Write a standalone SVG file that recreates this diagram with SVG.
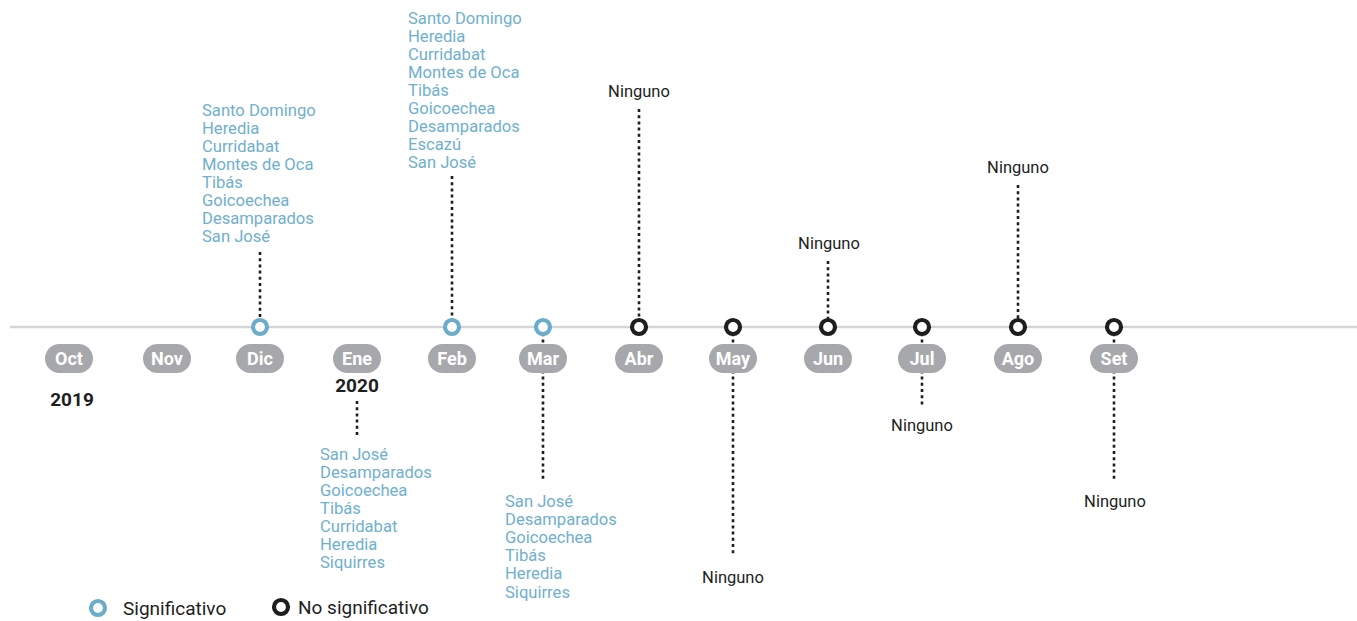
<svg xmlns="http://www.w3.org/2000/svg" width="1357" height="621" viewBox="0 0 1357 621">
<style>
.axis{stroke:#d5d5d5;stroke-width:2.5}
.dot{stroke:#1e1e1e;stroke-width:2.6;stroke-dasharray:3 3.2;fill:none}
.pill{fill:#a7a8ab}
.mon{font-family:Roboto,"Liberation Sans",sans-serif;font-weight:bold;font-size:18px;fill:#fff;text-anchor:middle}
.yr{font-family:Roboto,"Liberation Sans",sans-serif;font-weight:bold;font-size:19px;fill:#1e1e1e;text-anchor:middle}
.sig{fill:#fff;stroke:#6aadcb;stroke-width:4.2}
.ns{fill:#fff;stroke:#1e1e1e;stroke-width:4.2}
.blue{font-family:Roboto,"Liberation Sans",sans-serif;font-size:16.6px;fill:#6fb0ce}
.blk{font-family:Roboto,"Liberation Sans",sans-serif;font-size:16.5px;fill:#1e1e1e;text-anchor:middle}
.leg{font-family:Roboto,"Liberation Sans",sans-serif;font-size:19px;fill:#1e1e1e}
</style>
<rect width="1357" height="621" fill="#fff"/>
<line class="axis" x1="10" y1="327" x2="1357" y2="327"/>
<g id="connectors">
<line class="dot" x1="260" y1="252" x2="260" y2="327"/>
<line class="dot" x1="452" y1="176" x2="452" y2="327"/>
<line class="dot" x1="639" y1="109" x2="639" y2="327"/>
<line class="dot" x1="828" y1="261" x2="828" y2="327"/>
<line class="dot" x1="1018" y1="185" x2="1018" y2="327"/>
<line class="dot" x1="357" y1="401" x2="357" y2="437"/>
<line class="dot" x1="543" y1="327" x2="543" y2="479"/>
<line class="dot" x1="733" y1="327" x2="733" y2="556"/>
<line class="dot" x1="922" y1="327" x2="922" y2="405"/>
<line class="dot" x1="1114" y1="327" x2="1114" y2="480"/>
</g>
<g id="months">
<g id="m-oct"><rect class="pill" x="45" y="344" width="48" height="29" rx="14.5"/><text class="mon" x="69" y="365">Oct</text></g>
<g id="m-nov"><rect class="pill" x="143" y="344" width="48" height="29" rx="14.5"/><text class="mon" x="167" y="365">Nov</text></g>
<g id="m-dic"><rect class="pill" x="236" y="344" width="48" height="29" rx="14.5"/><text class="mon" x="260" y="365">Dic</text></g>
<g id="m-ene"><rect class="pill" x="333" y="344" width="48" height="29" rx="14.5"/><text class="mon" x="357" y="365">Ene</text></g>
<g id="m-feb"><rect class="pill" x="428" y="344" width="48" height="29" rx="14.5"/><text class="mon" x="452" y="365">Feb</text></g>
<g id="m-mar"><rect class="pill" x="519" y="344" width="48" height="29" rx="14.5"/><text class="mon" x="543" y="365">Mar</text></g>
<g id="m-abr"><rect class="pill" x="615" y="344" width="48" height="29" rx="14.5"/><text class="mon" x="639" y="365">Abr</text></g>
<g id="m-may"><rect class="pill" x="709" y="344" width="48" height="29" rx="14.5"/><text class="mon" x="733" y="365">May</text></g>
<g id="m-jun"><rect class="pill" x="804" y="344" width="48" height="29" rx="14.5"/><text class="mon" x="828" y="365">Jun</text></g>
<g id="m-jul"><rect class="pill" x="898" y="344" width="48" height="29" rx="14.5"/><text class="mon" x="922" y="365">Jul</text></g>
<g id="m-ago"><rect class="pill" x="994" y="344" width="48" height="29" rx="14.5"/><text class="mon" x="1018" y="365">Ago</text></g>
<g id="m-set"><rect class="pill" x="1090" y="344" width="48" height="29" rx="14.5"/><text class="mon" x="1114" y="365">Set</text></g>
<text class="yr" x="72" y="406">2019</text>
<text class="yr" x="357" y="392">2020</text>
</g>
<g id="markers">
<circle class="sig" cx="260" cy="327" r="7"/>
<circle class="sig" cx="452" cy="327" r="7"/>
<circle class="sig" cx="543" cy="327" r="7"/>
<circle class="ns" cx="639" cy="327" r="7"/>
<circle class="ns" cx="733" cy="327" r="7"/>
<circle class="ns" cx="828" cy="327" r="7"/>
<circle class="ns" cx="922" cy="327" r="7"/>
<circle class="ns" cx="1018" cy="327" r="7"/>
<circle class="ns" cx="1114" cy="327" r="7"/>
</g>
<g id="list-dic">
<text class="blue" x="202" y="116">Santo Domingo</text>
<text class="blue" x="202" y="134">Heredia</text>
<text class="blue" x="202" y="152">Curridabat</text>
<text class="blue" x="202" y="170">Montes de Oca</text>
<text class="blue" x="202" y="188">Tibás</text>
<text class="blue" x="202" y="206">Goicoechea</text>
<text class="blue" x="202" y="224">Desamparados</text>
<text class="blue" x="202" y="242">San José</text>
</g>
<g id="list-feb">
<text class="blue" x="408" y="24">Santo Domingo</text>
<text class="blue" x="408" y="42">Heredia</text>
<text class="blue" x="408" y="60">Curridabat</text>
<text class="blue" x="408" y="78">Montes de Oca</text>
<text class="blue" x="408" y="96">Tibás</text>
<text class="blue" x="408" y="114">Goicoechea</text>
<text class="blue" x="408" y="132">Desamparados</text>
<text class="blue" x="408" y="150">Escazú</text>
<text class="blue" x="408" y="168">San José</text>
</g>
<g id="list-ene">
<text class="blue" x="320" y="460">San José</text>
<text class="blue" x="320" y="478">Desamparados</text>
<text class="blue" x="320" y="496">Goicoechea</text>
<text class="blue" x="320" y="514">Tibás</text>
<text class="blue" x="320" y="532">Curridabat</text>
<text class="blue" x="320" y="550">Heredia</text>
<text class="blue" x="320" y="568">Siquirres</text>
</g>
<g id="list-mar">
<text class="blue" x="505" y="507">San José</text>
<text class="blue" x="505" y="525">Desamparados</text>
<text class="blue" x="505" y="543">Goicoechea</text>
<text class="blue" x="505" y="561">Tibás</text>
<text class="blue" x="505" y="579">Heredia</text>
<text class="blue" x="505" y="598">Siquirres</text>
</g>
<g id="ninguno">
<text class="blk" x="639" y="97">Ninguno</text>
<text class="blk" x="733" y="583">Ninguno</text>
<text class="blk" x="829" y="249">Ninguno</text>
<text class="blk" x="922" y="431">Ninguno</text>
<text class="blk" x="1018" y="173">Ninguno</text>
<text class="blk" x="1115" y="507">Ninguno</text>
</g>
<g id="legend">
<circle class="sig" cx="98" cy="608" r="7"/>
<text class="leg" x="123" y="615">Significativo</text>
<circle class="ns" cx="281" cy="607" r="7"/>
<text class="leg" x="298" y="614">No significativo</text>
</g>
</svg>
